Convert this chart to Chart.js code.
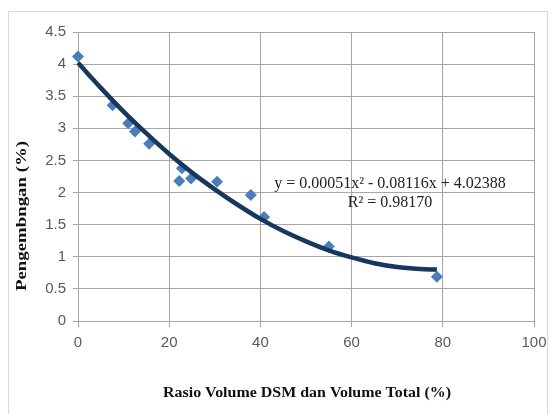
<!DOCTYPE html>
<html>
<head>
<meta charset="utf-8">
<script src="https://cdn.jsdelivr.net/npm/chart.js@4/dist/chart.umd.min.js"></script>
<style>
html,body{margin:0;padding:0;background:#fff;}
#wrap{position:relative;width:556px;height:414px;}
</style>
</head>
<body>
<div id="wrap"><canvas id="c" width="556" height="414"></canvas></div>
<script>
// Observed data points
const ratioX = [0, 7.6, 11.0, 12.5, 15.6, 22.2, 22.8, 24.8, 30.5, 37.9, 40.8, 55.0, 78.7];
const swellY = [4.12, 3.36, 3.08, 2.95, 2.76, 2.18, 2.38, 2.22, 2.17, 1.96, 1.62, 1.16, 0.69];
// Trend line
const trendX = [0, 5, 10, 15, 20, 25, 30, 35, 40, 45, 50, 55, 60, 65, 70, 75, 78.7];
const trendY = [4.02, 3.63, 3.26, 2.92, 2.60, 2.31, 2.05, 1.81, 1.59, 1.40, 1.24, 1.10, 0.99, 0.90, 0.84, 0.81, 0.80];
// Axis ticks
const xTicks = [0, 20, 40, 60, 80, 100];
const yTicks = [0, 0.5, 1, 1.5, 2, 2.5, 3, 3.5, 4, 4.5];
const xTitle = "Rasio Volume DSM dan Volume Total (%)";
const yTitle = "Pengembngan (%)";
const eqText = "y = 0.00051x\u00B2 - 0.08116x + 4.02388";
const r2Text = "R\u00B2 = 0.98170";

const pts = ratioX.map((x, i) => ({x: x, y: swellY[i]}));
const trend = trendX.map((x, i) => ({x: x, y: trendY[i]}));

const gridCol = '#a6a6a6';
const serif = '"Liberation Serif", "Times New Roman", serif';
const sans = '"Liberation Sans", Arial, sans-serif';

function fitText(ctx, text, font, width) {
  ctx.font = font;
  const w = ctx.measureText(text).width;
  return width / w;
}

const deco = {
  id: 'deco',
  beforeDraw(chart) {
    const ctx = chart.ctx;
    ctx.save();
    ctx.strokeStyle = '#d9d9d9';
    ctx.lineWidth = 1;
    ctx.strokeRect(8.5, 11.5, 539, 420);
    ctx.restore();
  },
  afterDraw(chart) {
    const ctx = chart.ctx;
    ctx.save();
    ctx.fillStyle = '#222';
    ctx.font = '16px ' + serif;
    ctx.textAlign = 'center';
    ctx.textBaseline = 'middle';
    ctx.fillText(eqText, 390, 184);
    ctx.fillText(r2Text, 390, 203);
    // y-axis title
    const yf = 'bold 15px ' + serif;
    const sy = fitText(ctx, yTitle, yf, 150);
    ctx.translate(22, 216);
    ctx.rotate(-Math.PI / 2);
    ctx.scale(sy, 1);
    ctx.font = yf;
    ctx.fillStyle = '#111';
    ctx.fillText(yTitle, 0, 0);
    ctx.restore();
    // x-axis title
    ctx.save();
    const xf = 'bold 15px ' + serif;
    const sx = fitText(ctx, xTitle, xf, 288);
    ctx.translate(307, 393);
    ctx.scale(sx, 1);
    ctx.font = xf;
    ctx.fillStyle = '#111';
    ctx.textAlign = 'center';
    ctx.textBaseline = 'middle';
    ctx.fillText(xTitle, 0, 0);
    ctx.restore();
  }
};

new Chart(document.getElementById('c'), {
  type: 'scatter',
  data: {
    datasets: [
      {
        label: 'data',
        data: pts,
        pointStyle: 'rectRot',
        pointRadius: 6,
        pointHoverRadius: 6,
        backgroundColor: '#4a7ebb',
        borderColor: '#4a7ebb',
        borderWidth: 0,
        showLine: false,
        clip: false,
        order: 2
      },
      {
        label: 'trend',
        data: trend,
        showLine: true,
        borderColor: '#17375e',
        borderWidth: 4.5,
        pointRadius: 0,
        tension: 0.4,
        cubicInterpolationMode: 'monotone',
        fill: false,
        clip: false,
        order: 1
      }
    ]
  },
  options: {
    responsive: false,
    animation: false,
    events: [],
    layout: {padding: {top: 32, right: 22, left: 0, bottom: 0}},
    plugins: {legend: {display: false}, tooltip: {enabled: false}},
    scales: {
      x: {
        type: 'linear',
        min: 0, max: 100,
        afterBuildTicks(s) { s.ticks = xTicks.map(v => ({value: v})); },
        afterFit(s) { s.height = 93; },
        grid: {color: gridCol, lineWidth: 1, tickLength: 6, drawTicks: true},
        border: {color: gridCol, width: 1},
        ticks: {color: '#595959', font: {family: sans, size: 15}, padding: 7, maxRotation: 0,
                callback: v => String(v)},
        title: {display: false}
      },
      y: {
        type: 'linear',
        min: 0, max: 4.5,
        afterBuildTicks(s) { s.ticks = yTicks.map(v => ({value: v})); },
        afterFit(s) { s.width = 78; },
        grid: {color: gridCol, lineWidth: 1, tickLength: 5, drawTicks: true},
        border: {color: gridCol, width: 1},
        ticks: {color: '#595959', font: {family: sans, size: 15}, padding: 7,
                callback: v => String(v)},
        title: {display: false}
      }
    }
  },
  plugins: [deco]
});
</script>
</body>
</html>
